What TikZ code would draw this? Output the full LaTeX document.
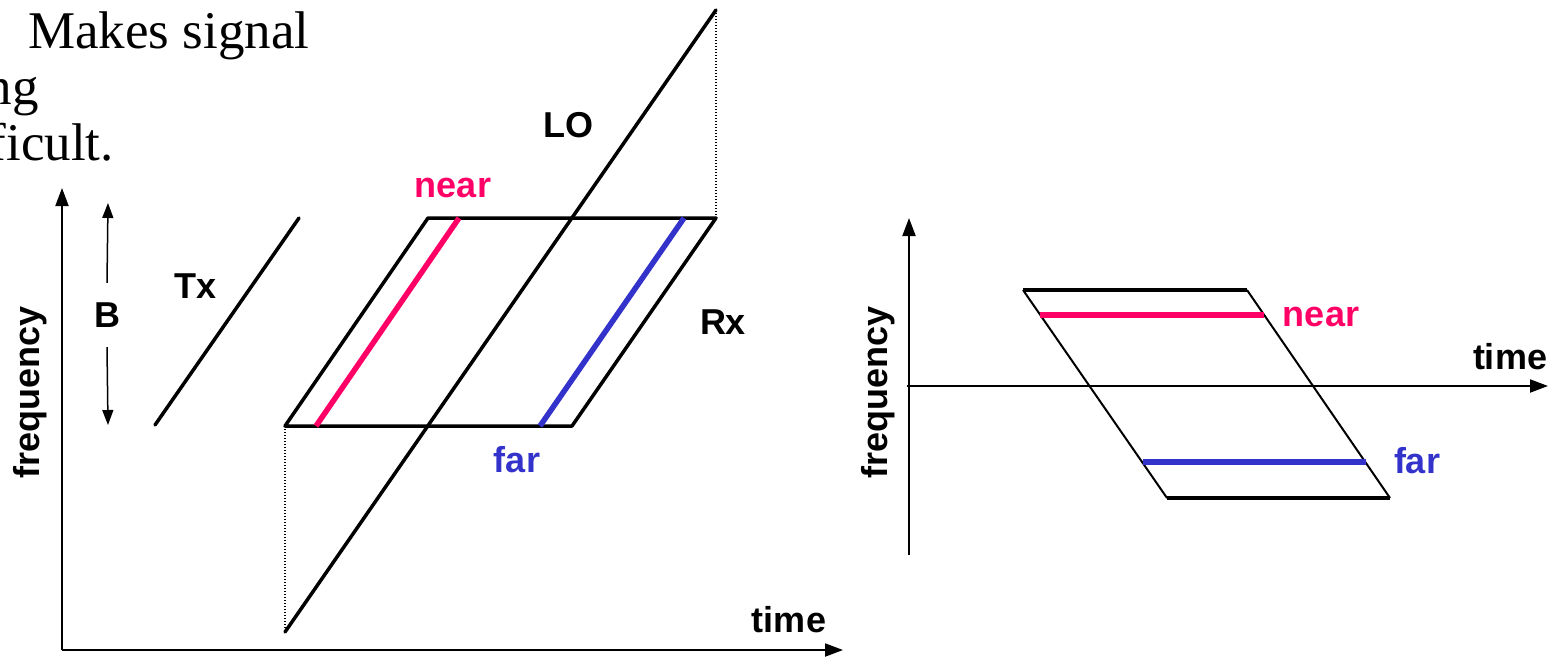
\documentclass[tikz,border=0pt]{standalone}
\usepackage{fontspec}
\setmainfont{Liberation Serif}
\setsansfont{Liberation Sans}
\usetikzlibrary{arrows.meta}
\definecolor{nearc}{HTML}{FF0066}
\definecolor{farc}{HTML}{3333CC}
\tikzset{
  thickline/.style={line width=3.5pt, line cap=round},
  axisline/.style={line width=2pt, -{Triangle[length=18pt,width=13pt]}},
  barrow/.style={line width=1.5pt, -{Triangle[length=15pt,width=11pt]}},
  dotline/.style={line width=1.3pt, dash pattern=on 1.3pt off 1.7pt},
  nearline/.style={line width=5.5pt, nearc},
  farline/.style={line width=5.5pt, farc},
  lbl/.style={font=\sffamily\bfseries\fontsize{36}{40}\selectfont, inner sep=0pt},
  serif/.style={font=\rmfamily\fontsize{53}{57}\selectfont, inner sep=0pt},
}
\begin{document}
\begin{tikzpicture}[x=1pt,y=-1pt]
\useasboundingbox (0,0) rectangle (1557,657);
\clip (0,0) rectangle (1557,657);
% top-left serif text (cut off at the left edge, as in the reference)
\node[serif, anchor=base west] (t1) at (28,48) {Makes signal};
\node[serif, anchor=base east] (t2) at (39,104) {ng};
\node[serif, anchor=base east] (t3) at (114,160) {ficult.};

% ===== left diagram =====
\coordinate (O) at (62,650);
\coordinate (Ytop) at (62,188);
\coordinate (Xend) at (843,650);
\draw[axisline] (O) -- (Ytop);
\draw[axisline] (O) -- (Xend);
\node[lbl, rotate=90] (freqL) at (30,392) {frequency};
\node[lbl] (timeL) at (789,620) {time};

% bandwidth arrow
\node[lbl, minimum height=64pt] (B) at (107,315) {B};
\coordinate (Btop) at (108,203);
\coordinate (Bbot) at (108,425);
\draw[barrow] (B.north) -- (Btop);
\draw[barrow] (B.south) -- (Bbot);

% Tx
\coordinate (tx1) at (155,425);
\coordinate (tx2) at (299,218);
\draw[thickline] (tx1) -- (tx2);
\node[lbl] (Tx) at (196,286) {Tx};

% Rx parallelogram
\coordinate (r1) at (285,426);
\coordinate (r2) at (428,218);
\coordinate (r3) at (716,218);
\coordinate (r4) at (572,426);
\draw[thickline, line join=round] (r1) -- (r2) -- (r3) -- (r4) -- cycle;
\node[lbl] (Rx) at (723,322) {Rx};

% near / far
\coordinate (n1) at (316,426);
\coordinate (n2) at (459,218);
\draw[nearline] (n1) -- (n2);
\node[lbl, text=nearc] (nearL) at (453,188) {near};
\coordinate (f1) at (540,426);
\coordinate (f2) at (684,218);
\draw[farline] (f1) -- (f2);
\node[lbl, text=farc] (farL) at (517,460) {far};

% LO
\coordinate (lo1) at (285,632);
\coordinate (lo2) at (716,10);
\draw[thickline] (lo1) -- (lo2);
\node[lbl] (LO) at (568,125) {LO};

% dotted guides
\draw[dotline] (r1) -- (lo1);
\draw[dotline] (lo2) -- (r3);

% ===== right diagram =====
\coordinate (RYb) at (909,555);
\coordinate (RYt) at (909,218);
\coordinate (RXa) at (907,386);
\coordinate (RXb) at (1548,386);
\draw[axisline] (RYb) -- (RYt);
\draw[axisline] (RXa) -- (RXb);
\node[lbl, rotate=90] (freqR) at (878,392) {frequency};
\node[lbl] (timeR) at (1510,357) {time};

\coordinate (p1) at (1023,290);
\coordinate (p2) at (1247,290);
\coordinate (p3) at (1390,498);
\coordinate (p4) at (1167,498);
\draw[line width=2pt] (p1) -- (p4);
\draw[line width=2pt] (p2) -- (p3);
\draw[line width=4pt] (p1) -- (p2);
\draw[line width=4pt] (p4) -- (p3);

\coordinate (rn1) at (1040,315);
\coordinate (rn2) at (1264,315);
\draw[nearline] (rn1) -- (rn2);
\node[lbl, text=nearc] (nearR) at (1321,317) {near};

\coordinate (rf1) at (1143,462);
\coordinate (rf2) at (1366,462);
\draw[farline] (rf1) -- (rf2);
\node[lbl, text=farc] (farR) at (1417,461) {far};
\end{tikzpicture}
\end{document}
